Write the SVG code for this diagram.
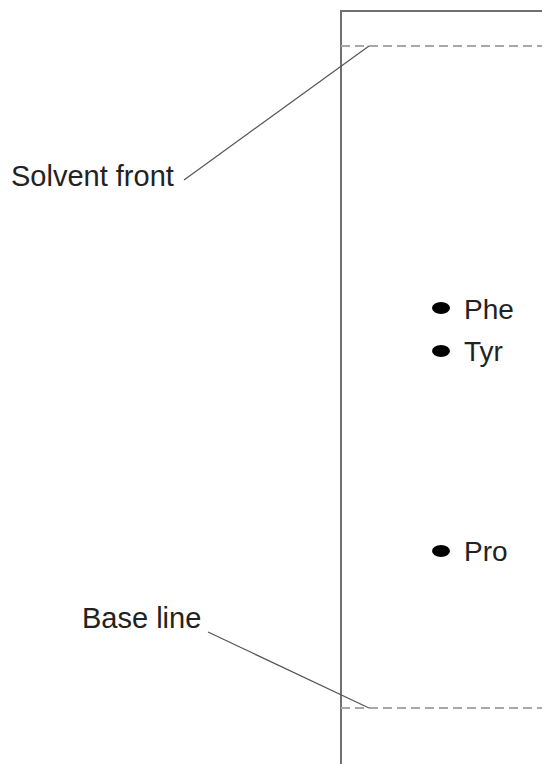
<svg xmlns="http://www.w3.org/2000/svg" width="542" height="764" viewBox="0 0 542 764">
<style>
.plate{fill:none;stroke:#707070;stroke-width:2}
.dash{fill:none;stroke:#a8a8a8;stroke-width:2;stroke-dasharray:9 5}
.lead{fill:none;stroke:#555;stroke-width:1.2}
.lbl{font-family:"Liberation Sans",Arial,sans-serif;font-size:29px;fill:#222}
.spot{font-family:"Liberation Sans",Arial,sans-serif;font-size:28px;fill:#222}
</style>
<rect width="542" height="764" fill="#fff"/>
<g id="plate">
<path class="plate" d="M341,764 V11 H542"/>
<line class="dash" x1="341" y1="46" x2="542" y2="46"/>
<line class="dash" x1="341" y1="708" x2="542" y2="708"/>
</g>
<g id="connectors">
<line class="lead" x1="184" y1="180" x2="369" y2="46"/>
<line class="lead" x1="208" y1="632" x2="369" y2="708"/>
</g>
<g id="solvent-front"><text class="lbl" x="11" y="186">Solvent front</text></g>
<g id="base-line"><text class="lbl" x="82" y="628">Base line</text></g>
<g id="phe"><ellipse cx="441" cy="308" rx="9" ry="6" fill="#000"/><text class="spot" x="464" y="319">Phe</text></g>
<g id="tyr"><ellipse cx="441" cy="351" rx="9" ry="6" fill="#000"/><text class="spot" x="464" y="361">Tyr</text></g>
<g id="pro"><ellipse cx="441" cy="551" rx="9" ry="6" fill="#000"/><text class="spot" x="464" y="561">Pro</text></g>
</svg>
